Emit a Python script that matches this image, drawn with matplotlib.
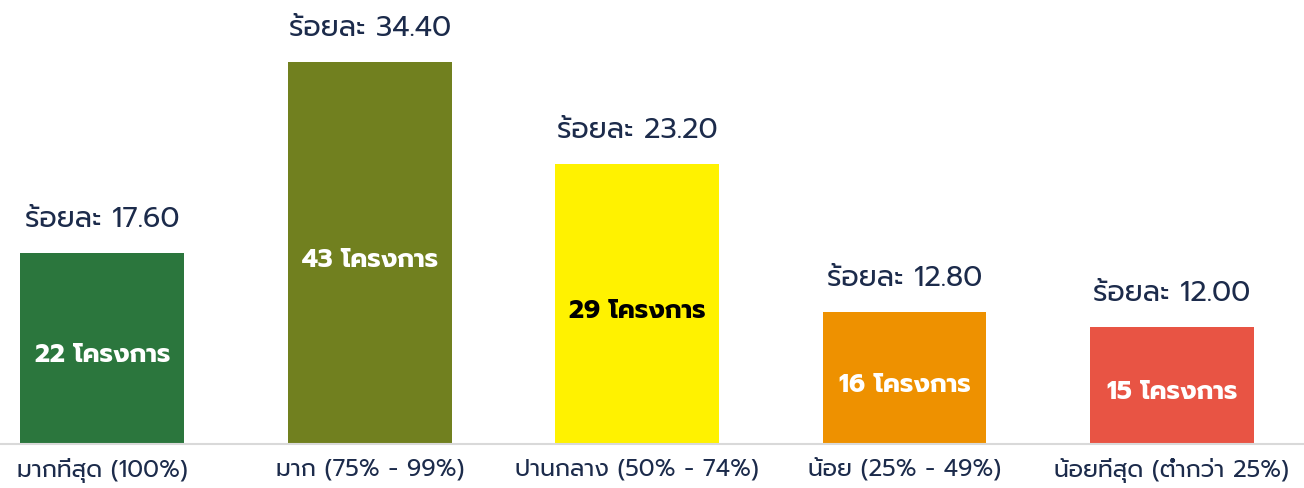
import matplotlib
matplotlib.use("Agg")
import matplotlib.pyplot as plt

plt.rcParams['font.family'] = ['Prompt', 'Noto Sans Thai', 'DejaVu Sans']

categories = ['มากที่สุด (100%)', 'มาก (75% - 99%)', 'ปานกลาง (50% - 74%)',
              'น้อย (25% - 49%)', 'น้อยที่สุด (ต่ำกว่า 25%)']
percent = [17.60, 34.40, 23.20, 12.80, 12.00]
projects = [22, 43, 29, 16, 15]
# bar heights as drawn in the picture (not quite proportional to the labels)
bar_heights = [17.2, 34.4, 25.2, 11.9, 10.5]
colors = ['#2b763d', '#71801f', '#fff200', '#ee9100', '#e85444']
inner_text = ['white', 'white', 'black', 'white', 'white']

NAVY = '#1c2b4b'

fig = plt.figure(figsize=(13.04, 4.88), dpi=100)
ax = fig.add_axes([0, 1 - 444 / 488, 1, 444 / 488])

x = range(len(categories))
bars = ax.bar(x, bar_heights, width=0.613, color=colors)

for b, p, n, tc in zip(bars, percent, projects, inner_text):
    cx = b.get_x() + b.get_width() / 2
    h = b.get_height()
    ax.annotate(f'ร้อยละ {p:.2f}', (cx, h), xytext=(0, 19), textcoords='offset points',
                ha='center', va='baseline', fontsize=20.5, color=NAVY)
    ax.annotate(f'{n} โครงการ', (cx, h / 2), xytext=(0, -3), textcoords='offset points',
                ha='center', va='center_baseline', fontsize=18.5, fontweight='bold', color=tc)

ax.set_xlim(-0.383, 4.494)
ax.set_ylim(0, 40)
ax.set_xticks(list(x))
ax.set_xticklabels(categories, fontsize=17, color=NAVY)
ax.tick_params(axis='x', length=0, pad=10)
ax.set_yticks([])
for s in ['top', 'left', 'right']:
    ax.spines[s].set_visible(False)
ax.spines['bottom'].set_color('#d9d9d9')
ax.spines['bottom'].set_linewidth(1.5)

fig.savefig('out.png', dpi=100)
